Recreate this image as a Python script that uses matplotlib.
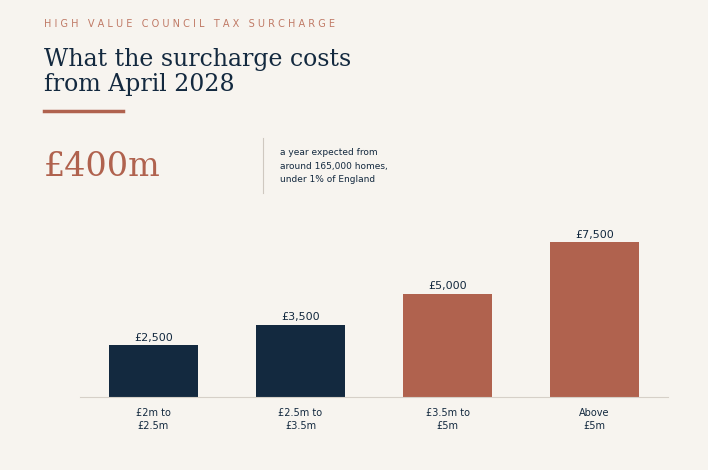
import matplotlib.pyplot as plt

categories = ["£2m to\n£2.5m", "£2.5m to\n£3.5m", "£3.5m to\n£5m", "Above\n£5m"]
charges = [2500, 3500, 5000, 7500]
value_labels = ["£2,500", "£3,500", "£5,000", "£7,500"]
bar_colors = ["#13293f", "#13293f", "#b0624e", "#b0624e"]

BG = "#f7f4ef"
ACCENT = "#b0624e"
NAVY = "#13293f"

fig = plt.figure(figsize=(7.08, 4.70), dpi=100, facecolor=BG)

# header block
fig.text(44 / 708, 1 - 24 / 470, "H I G H   V A L U E   C O U N C I L   T A X   S U R C H A R G E",
         fontsize=7, color="#c07a66", va="center", ha="left")
fig.text(44 / 708, 1 - 72 / 470, "What the surcharge costs\nfrom April 2028",
         fontsize=17, color=NAVY, family="DejaVu Serif", va="center", ha="left",
         linespacing=1.15)
fig.add_artist(plt.Line2D([44 / 708, 123 / 708], [1 - 111 / 470] * 2, color=ACCENT, lw=2.5))
fig.text(44 / 708, 1 - 167 / 470, "£400m", fontsize=24, color=ACCENT,
         family="DejaVu Serif", va="center", ha="left")
fig.add_artist(plt.Line2D([263 / 708] * 2, [1 - 138 / 470, 1 - 193 / 470], color="#cfc8c0", lw=0.8))
fig.text(280 / 708, 1 - 166 / 470, "a year expected from\naround 165,000 homes,\nunder 1% of England",
         fontsize=6.5, color=NAVY, va="center", ha="left", linespacing=1.6)

# bars
ax = fig.add_axes([80 / 708, 73 / 470, 588 / 708, 165 / 470])
ax.set_facecolor(BG)
x = range(len(categories))
bars = ax.bar(x, charges, width=0.6, color=bar_colors)
for b, lab in zip(bars, value_labels):
    ax.text(b.get_x() + b.get_width() / 2, b.get_height() + 120, lab,
            ha="center", va="bottom", fontsize=8, color=NAVY)
ax.set_xlim(-0.5, 3.5)
ax.set_ylim(0, 8000)
ax.set_yticks([])
ax.set_xticks(list(x))
ax.set_xticklabels(categories, fontsize=7, color=NAVY, linespacing=1.3)
ax.tick_params(axis="x", length=0, pad=8)
for s in ["top", "right", "left"]:
    ax.spines[s].set_visible(False)
ax.spines["bottom"].set_color("#d6d0c8")

fig.savefig("out.png", dpi=100, facecolor=BG)
